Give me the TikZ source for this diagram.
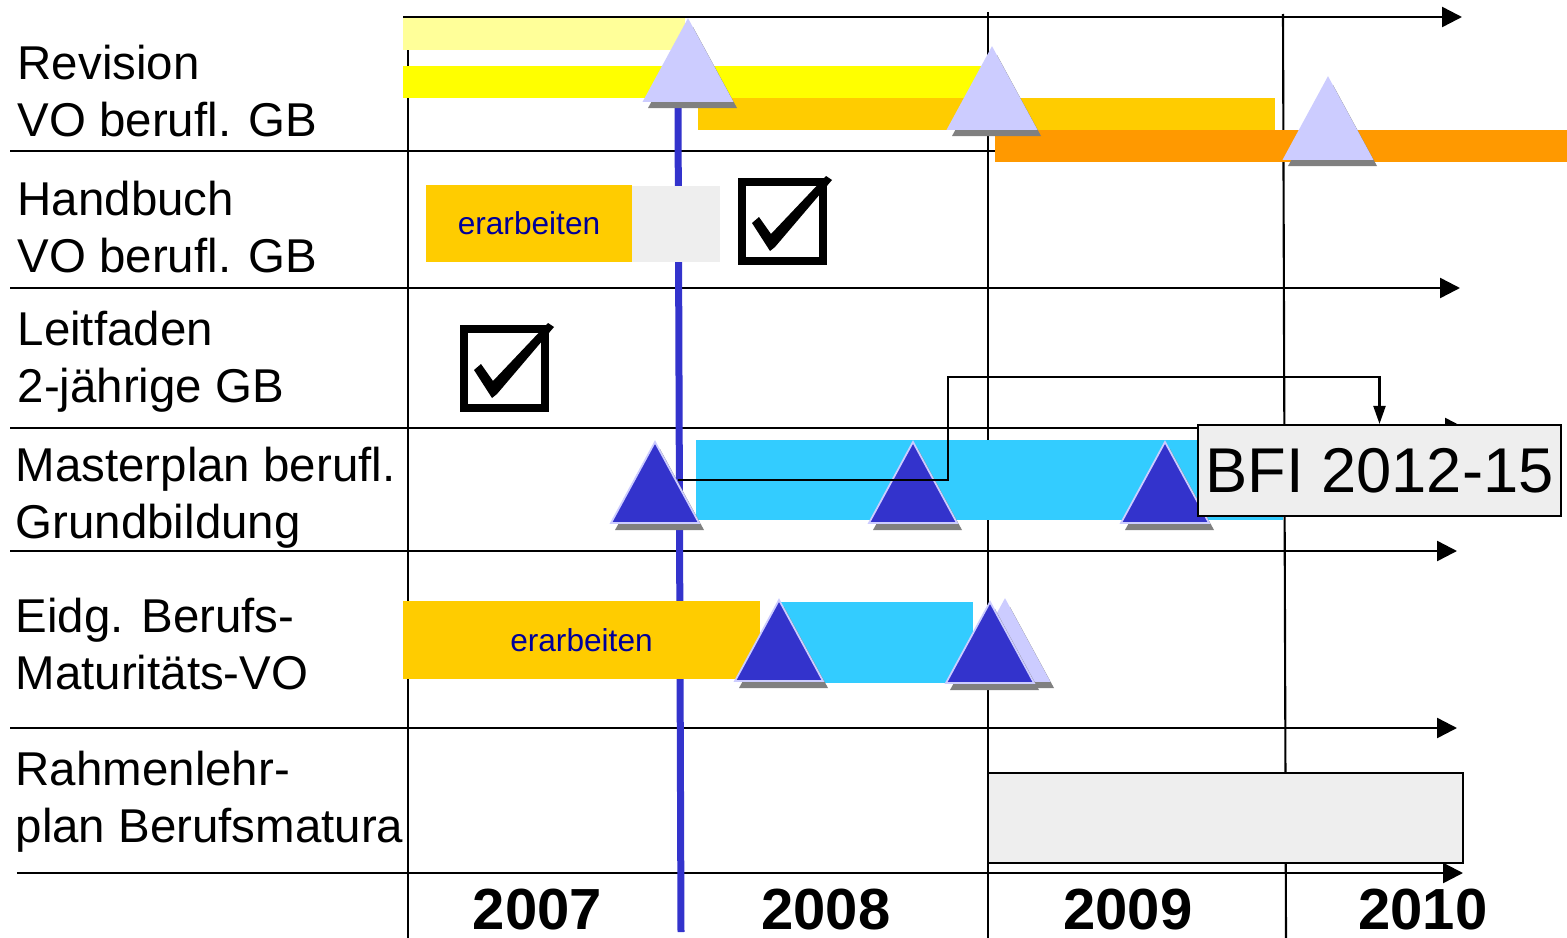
\documentclass[tikz,border=0pt]{standalone}
\usepackage{fontspec}
\setmainfont{Liberation Sans}
\usetikzlibrary{arrows.meta}

\definecolor{barlight}{HTML}{FFFF99}
\definecolor{baryellow}{HTML}{FFFF00}
\definecolor{bargold}{HTML}{FFCC00}
\definecolor{barorange}{HTML}{FF9900}
\definecolor{barcyan}{HTML}{33CCFF}
\definecolor{mslight}{HTML}{CCCCFF}
\definecolor{msdark}{HTML}{3333CC}
\definecolor{boxgray}{HTML}{EEEEEE}
\definecolor{worktext}{HTML}{000099}

\tikzset{
  rowline/.style={line width=0.7pt, -{Triangle[length=0.2cm,width=0.2cm]}},
  yearline/.style={line width=0.6pt},
  rowlabel/.style={anchor=base west, align=left, inner sep=0pt, font=\fontsize{13.5}{16}\selectfont},
  work/.style={fill=bargold, text=worktext, inner sep=0pt, font=\fontsize{9}{10}\selectfont},
  yearlabel/.style={anchor=base, inner sep=0pt, font=\fontsize{16.5}{18}\selectfont\bfseries},
  pics/ms/.style={code={
    \fill[gray] (-0.40,-0.88) -- (0.05,-0.07) -- (0.49,-0.88) -- cycle;
    \filldraw[fill=#1, draw=mslight, line width=0.5pt] (-0.44,-0.81) -- (0,0) -- (0.44,-0.81) -- cycle;
  }},
  pics/checkbox/.style={code={
    \draw[line width=0.08cm] (0.04,-0.04) rectangle (0.85,-0.83);
    \fill (0.14,-0.45) -- (0.21,-0.39) -- (0.33,-0.56) -- (0.88,0.02) -- (0.94,-0.02) -- (0.37,-0.69) -- (0.32,-0.73) -- cycle;
  }},
}

\begin{document}
\begin{tikzpicture}
\useasboundingbox (0,0) rectangle (15.67,-9.38);

% year dividers
\draw[yearline] (4.08,-0.17) -- (4.08,-9.38);
\draw[yearline] (9.88,-0.12) -- (9.88,-9.38);
\draw[yearline] (12.83,-0.14) -- (12.86,-9.38);

% row separators
\draw[rowline] (4.03,-0.17) -- (14.62,-0.17);
\foreach \y/\xe in {1.51/14.60, 2.88/14.60, 4.28/14.65, 5.51/14.57, 7.28/14.57}
  \draw[rowline] (0.10,-\y) -- (\xe,-\y);
\draw[rowline] (0.17,-8.73) -- (14.63,-8.73);

% today
\draw[msdark, line width=0.07cm] (6.78,-1.00) -- (6.81,-9.32);

% Revision
\fill[barlight] (4.03,-0.18) rectangle (6.85,-0.50);
\fill[baryellow] (4.03,-0.66) rectangle (9.85,-0.98);
\fill[bargold] (6.98,-0.98) rectangle (12.75,-1.30);
\fill[barorange] (9.95,-1.30) rectangle (15.67,-1.62);
\pic at (6.88,-0.20) {ms=mslight};
\pic at (9.92,-0.48) {ms=mslight};
\pic at (13.28,-0.78) {ms=mslight};

% Handbuch
\node[work, minimum width=2.06cm, minimum height=0.77cm] (hbwork) at (5.29,-2.235) {erarbeiten};
\fill[boxgray] (6.32,-1.86) rectangle (7.20,-2.62);
\pic at (7.38,-1.78) {checkbox};

% Leitfaden
\pic at (4.60,-3.25) {checkbox};

% Masterplan
\fill[barcyan] (6.96,-4.40) rectangle (12.83,-5.20);
\foreach \x in {6.55, 9.13, 11.65}
  \pic at (\x,-4.42) {ms=msdark};
\node[draw, fill=boxgray, line width=0.6pt, inner sep=0pt, minimum width=3.63cm, minimum height=0.91cm,
      font=\fontsize{18}{20}\selectfont] (bfi) at (13.795,-4.705) {BFI 2012-15};
\coordinate (bfistart) at (6.78,-4.80);
\draw[line width=0.6pt, -{Triangle[length=0.18cm,width=0.12cm]}] (bfistart) -| (9.48,-3.77) -| (bfi.north);

% Berufsmaturitaet
\node[work, minimum width=3.57cm, minimum height=0.78cm] (bmwork) at (5.815,-6.40) {erarbeiten};
\fill[barcyan] (7.80,-6.02) rectangle (9.73,-6.83);
\pic at (7.79,-6.00) {ms=msdark};
\pic at (10.05,-6.00) {ms=mslight};
\pic at (9.90,-6.02) {ms=msdark};

% Rahmenlehrplan
\node[draw, fill=boxgray, line width=0.6pt, inner sep=0pt, minimum width=4.75cm, minimum height=0.90cm] (rlpbox) at (12.255,-8.18) {};

% labels
\node[rowlabel] (rev) at (0.17,-1.36) {Revision\\VO berufl. GB};
\node[rowlabel] (hb) at (0.17,-2.72) {Handbuch\\VO berufl. GB};
\node[rowlabel] (lf) at (0.17,-4.02) {Leitfaden\\2-jährige GB};
\node[rowlabel] (mp) at (0.15,-5.38) {Masterplan berufl.\\Grundbildung};
\node[rowlabel] (bm) at (0.15,-6.89) {Eidg. Berufs-\\Maturitäts-VO};
\node[rowlabel] (rlp) at (0.15,-8.42) {Rahmenlehr-\\plan Berufsmatura};

% years
\foreach \x/\yr in {5.375/2007, 8.26/2008, 11.28/2009, 14.23/2010}
  \node[yearlabel] (y\yr) at (\x,-9.29) {\yr};
\end{tikzpicture}
\end{document}
